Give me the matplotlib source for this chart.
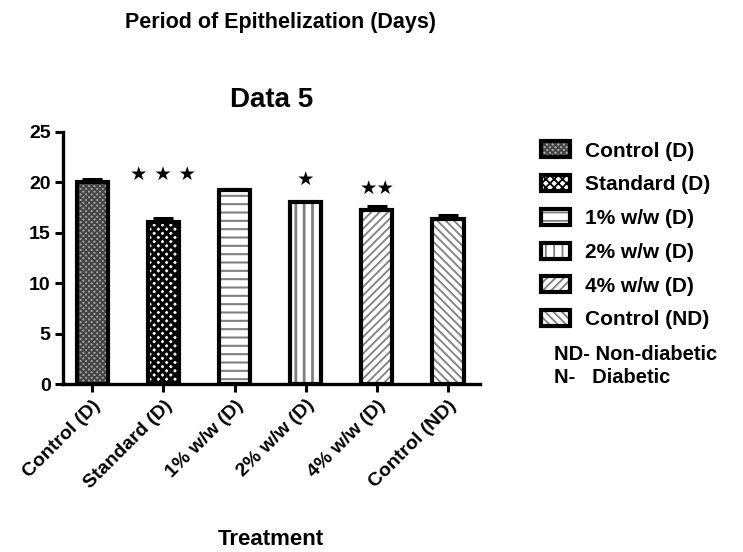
import numpy as np
import matplotlib
matplotlib.use('Agg')
from matplotlib import pyplot as plt
from matplotlib.legend_handler import HandlerTuple

plt.rcParams['font.family'] = ['Liberation Sans', 'DejaVu Sans']
plt.rcParams['font.weight'] = 'bold'

# Data
groups = ['Control (D)', 'Standard (D)', '1% w/w (D)', '2% w/w (D)', '4% w/w (D)', 'Control (ND)']
days = [20.0, 16.1, 19.2, 18.1, 17.3, 16.4]
sem = [0.3, 0.35, 0.1, 0.1, 0.4, 0.4]
stars = ['', '★ ★ ★', '', '★', '★★', '']
star_y = [0, 20.8, 0, 20.3, 19.4, 0]

hatches = ['xxxxxx', 'xxxx', '--', '||', '////', '\\\\\\\\']
hatch_lw = [1.4, 2.3, 1.5, 2.0, 1.3, 1.3]
fills = ['#a8a8a8', 'white', 'white', 'white', 'white', 'white']
hatch_cols = ['#444444', 'black', '#808080', '#808080', '#808080', '#808080']

fig = plt.figure(figsize=(7.43, 5.52), dpi=100)
ax = fig.add_axes([0.085, 0.304, 0.561, 0.457])

x = np.arange(len(groups))
w = 0.44
handles = []
for i in range(len(groups)):
    plt.rcParams['hatch.linewidth'] = hatch_lw[i]
    b1 = ax.bar(x[i], days[i], w, color=fills[i], hatch=hatches[i],
                edgecolor=hatch_cols[i], linewidth=0, zorder=2)
    b2 = ax.bar(x[i], days[i], w, fill=False, edgecolor='black',
                linewidth=3.0, zorder=3)
    handles.append((b1[0], b2[0]))
    ax.errorbar(x[i], days[i], yerr=[[0], [sem[i]]], color='black',
                capsize=7, capthick=2.2, elinewidth=2.2, zorder=1)
    if stars[i]:
        ax.text(x[i], star_y[i], stars[i], ha='center', va='center',
                fontsize=14, family='DejaVu Sans')

ax.set_xlim(-0.41, 5.45)
ax.set_ylim(0, 25)
ax.set_yticks([0, 5, 10, 15, 20, 25])
ax.set_xticks(x)
ax.set_xticklabels(groups, rotation=45, ha='right', rotation_mode='anchor',
                   fontsize=14, fontweight='bold')
for lab in ax.get_yticklabels():
    lab.set_fontsize(14)
    lab.set_fontweight('bold')
for s in ['top', 'right']:
    ax.spines[s].set_visible(False)
for s in ['left', 'bottom']:
    ax.spines[s].set_linewidth(2.4)
ax.tick_params(width=2.2, length=6, pad=3)

ax.set_title('Data 5', fontsize=20, fontweight='bold', pad=18)
fig.text(0.365, 0.022, 'Treatment', ha='center', va='center',
         fontsize=16, fontweight='bold')
fig.text(0.377, 0.96, 'Period of Epithelization (Days)', ha='center',
         va='center', fontsize=15.5, fontweight='bold')

fig.legend(handles, groups, loc='upper left', bbox_to_anchor=(0.703, 0.778),
           frameon=False, handlelength=1.4, handleheight=0.8,
           labelspacing=0.70, handletextpad=0.7,
           handler_map={tuple: HandlerTuple(ndivide=1, pad=0)},
           prop={'weight': 'bold', 'size': 15})

fig.text(0.745, 0.357, 'ND- Non-diabetic', fontsize=14.5, fontweight='bold', va='center')
fig.text(0.745, 0.317, 'N-   Diabetic', fontsize=14.5, fontweight='bold', va='center')

fig.savefig('out.png', dpi=100)
